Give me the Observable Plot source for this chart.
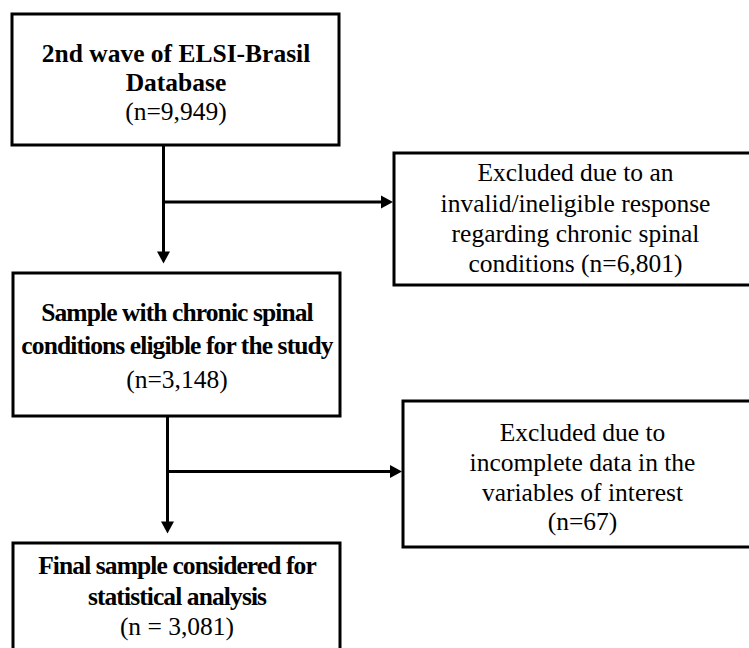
<!DOCTYPE html>
<html>
<head>
<meta charset="utf-8">
<script src="https://cdn.jsdelivr.net/npm/d3@7"></script>
<script src="https://cdn.jsdelivr.net/npm/@observablehq/plot@0.6"></script>
<style>
  html, body { margin: 0; padding: 0; background: #fff; }
  #chart { width: 749px; height: 648px; overflow: hidden; }
</style>
</head>
<body>
<div id="chart"></div>
<script>
// ---- data ----
const stageLines = [
  ["2nd wave of ELSI-Brasil", "Database"],
  ["Sample with chronic spinal", "conditions eligible for the study"],
  ["Final sample considered for", "statistical analysis"]
];
const stageCounts = [9949, 3148, 3081];
const exclusionLines = [
  ["Excluded due to an", "invalid/ineligible response", "regarding chronic spinal", "conditions {n}"],
  ["Excluded due to", "incomplete data in the", "variables of interest", "{n}"]
];
const exclusionCounts = [6801, 67];

// ---- layout (pixel units of the 749x648 canvas) ----
const mainBoxes = [
  {x1: 12, x2: 339, y1: 14, y2: 145, cy: 82, lh: 29, tight: false},
  {x1: 13, x2: 340, y1: 273, y2: 416, cy: 345.5, lh: 33.5, tight: true},
  {x1: 13, x2: 340, y1: 543, y2: 690, cy: 596, lh: 30.5, tight: true}
];
const sideBoxes = [
  {x1: 394, x2: 756, y1: 153, y2: 285, cy: 218, lh: 30.3},
  {x1: 403, x2: 761, y1: 401, y2: 547, cy: 477, lh: 29.7}
];
const trunkX = [163, 167];
const branchY = [201.5, 471];
const headLen = 12, headW = 13;

const fmt = d3.format(",");
const nLabel = (v, i) => i === 2 ? `(n = ${fmt(v)})` : `(n=${fmt(v)})`;

// text records
const boldText = [], boldTight = [], plainText = [];
mainBoxes.forEach((b, i) => {
  const lines = [...stageLines[i].map(t => ({t, bold: true})), {t: nLabel(stageCounts[i], i), bold: false}];
  lines.forEach((ln, k) => {
    const rec = {x: (b.x1 + b.x2) / 2, y: b.cy + (k - (lines.length - 1) / 2) * b.lh, text: ln.t};
    (ln.bold ? (b.tight ? boldTight : boldText) : plainText).push(rec);
  });
});
sideBoxes.forEach((b, i) => {
  const lines = exclusionLines[i].map(t => t.replace("{n}", `(n=${fmt(exclusionCounts[i])})`));
  lines.forEach((t, k) => {
    plainText.push({x: (b.x1 + b.x2) / 2, y: b.cy + (k - (lines.length - 1) / 2) * b.lh, text: t});
  });
});

// connectors
const trunks = [0, 1].map(i => ({
  x: trunkX[i],
  y1: mainBoxes[i].y2,
  y2: mainBoxes[i + 1].y1 - 10 - headLen / 2
}));
const branches = [0, 1].map(i => ({
  y: branchY[i],
  x1: trunkX[i],
  x2: sideBoxes[i].x1 - 1.5 - headLen / 2
}));
const downHeads = trunks.map(t => ({x: t.x, y: t.y2}));
const rightHeads = branches.map(b => ({x: b.x2, y: b.y}));

const downTri = {
  draw(ctx) {
    ctx.moveTo(-headW / 2, -headLen / 2);
    ctx.lineTo(headW / 2, -headLen / 2);
    ctx.lineTo(0, headLen / 2);
    ctx.closePath();
  }
};
const rightTri = {
  draw(ctx) {
    ctx.moveTo(-headLen / 2, -headW / 2);
    ctx.lineTo(headLen / 2, 0);
    ctx.lineTo(-headLen / 2, headW / 2);
    ctx.closePath();
  }
};

const font = "'Liberation Serif', 'Times New Roman', serif";
const fs = 25.5;
const textOpts = {x: "x", y: "y", text: "text", fontFamily: font, fontSize: fs, fill: "#000", textAnchor: "middle"};

const chart = Plot.plot({
  width: 749,
  height: 648,
  margin: 0,
  style: {background: "#fff", overflow: "hidden"},
  x: {domain: [0, 749], axis: null},
  y: {domain: [0, 648], reverse: true, axis: null},
  marks: [
    Plot.ruleX(trunks, {x: "x", y1: "y1", y2: "y2", stroke: "#000", strokeWidth: 3}),
    Plot.ruleY(branches, {y: "y", x1: "x1", x2: "x2", stroke: "#000", strokeWidth: 3}),
    Plot.dot(downHeads, {x: "x", y: "y", symbol: downTri, r: 6, fill: "#000", stroke: null}),
    Plot.dot(rightHeads, {x: "x", y: "y", symbol: rightTri, r: 6, fill: "#000", stroke: null}),
    Plot.rect(mainBoxes, {x1: "x1", x2: "x2", y1: "y1", y2: "y2", fill: "#fff", stroke: "#000", strokeWidth: 3}),
    Plot.rect(sideBoxes, {x1: "x1", x2: "x2", y1: "y1", y2: "y2", fill: "#fff", stroke: "#000", strokeWidth: 3}),
    Plot.text(boldText, {...textOpts, fontWeight: "bold"}),
    Plot.text(boldTight, {...textOpts, fontWeight: "bold", className: "tight"}),
    Plot.text(plainText, {...textOpts, fontWeight: "normal"})
  ]
});
// condensed character spacing used for the bold lines of the lower boxes
const tightSet = new Set(boldTight.map(d => d.text));
d3.select(chart).selectAll("text")
  .filter(function () { return tightSet.has(this.textContent); })
  .style("letter-spacing", "-0.9px");
document.getElementById("chart").appendChild(chart);
</script>
</body>
</html>
